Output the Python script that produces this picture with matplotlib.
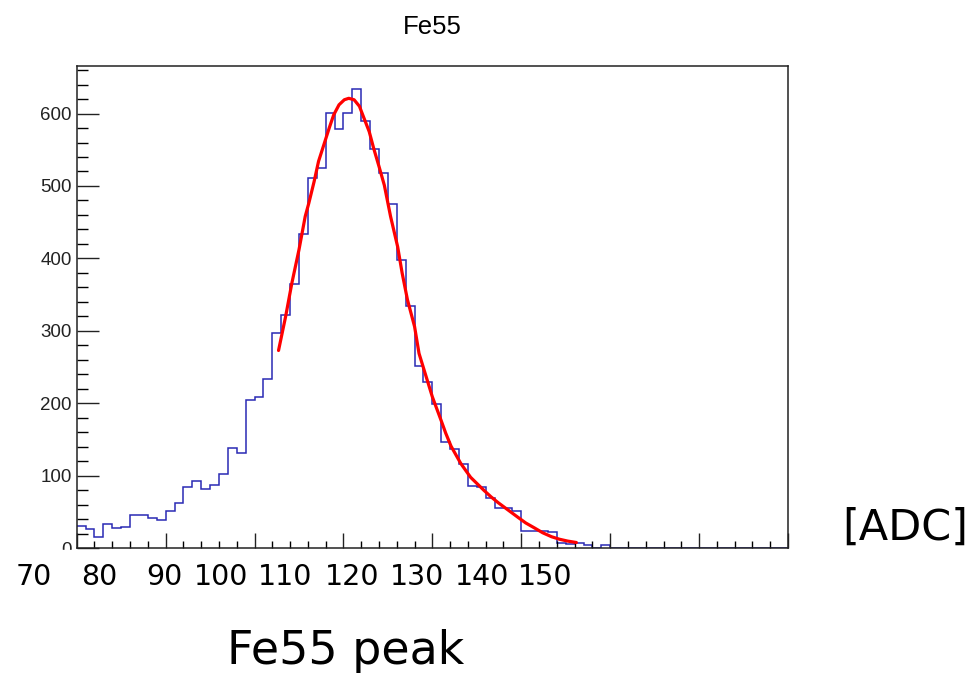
import numpy as np
import matplotlib
matplotlib.use("Agg")
import matplotlib.pyplot as plt
from matplotlib.patches import Rectangle
from matplotlib.ticker import MultipleLocator

# histogram counts, 80 bins of width 1 starting at 70
bin_lo = 70
bin_hi = 150
counts = [31, 26, 16, 33, 28, 30, 46, 46, 42, 39,
          52, 63, 85, 93, 82, 87, 102, 138, 132, 204,
          209, 234, 297, 322, 365, 434, 511, 525, 601, 579,
          601, 634, 590, 551, 518, 475, 398, 335, 252, 230,
          199, 147, 137, 116, 86, 84, 69, 56, 56, 52,
          24, 24, 24, 22, 8, 6, 7, 5, 0, 5,
          0, 0, 0, 0, 0, 0, 0, 0, 0, 0,
          0, 0, 0, 0, 0, 0, 0, 0, 0, 0]

# fit curve
fit_x = [92.7, 93.5, 94.2, 95.0, 95.7, 96.1, 96.7, 97.2, 97.8, 98.4,
         98.9, 99.5, 100.1, 100.6, 101.2, 101.8, 102.3, 102.9, 103.4, 104.0,
         104.6, 105.3, 106.1, 106.6, 107.2, 108.0, 108.5, 109.3, 110.0, 111.0,
         111.5, 112.1, 113.2, 114.3, 115.8, 116.6, 117.4, 118.5, 119.6, 120.5,
         121.5, 122.4, 123.4, 124.3, 125.2, 126.2]
fit_y = [273, 320, 366, 412, 458, 476, 506, 534, 557, 580,
         598, 612, 619, 621, 619, 610, 594, 575, 552, 527,
         501, 458, 416, 380, 343, 306, 269, 237, 209, 176,
         159, 141, 117, 98, 80, 71, 63, 53, 43, 35,
         28, 21.5, 16, 12.5, 10, 8]

xlabels = ["70", "80", "90", "100", "110", "120", "130", "140", "150"]
xlabel_px = [34, 99, 164, 221, 285, 352, 417, 482, 545]

W, H = 974, 673
fig = plt.figure(figsize=(W / 100, H / 100), dpi=100)
ax = fig.add_axes([76.7 / W, 1 - 548.3 / H, (788 - 76.7) / W, (548.3 - 65.7) / H])

edges = np.arange(bin_lo, bin_hi + 1)
ax.stairs(counts, edges, color="#2a2ab4", lw=1.1, baseline=None)
ax.plot(fit_x, fit_y, color="#ff0000", lw=2.3, solid_capstyle="round", solid_joinstyle="round")

ax.set_xlim(bin_lo, bin_hi)
ax.set_ylim(0, 666)
ax.xaxis.set_major_locator(MultipleLocator(10))
ax.xaxis.set_minor_locator(MultipleLocator(2))
ax.yaxis.set_major_locator(MultipleLocator(100))
ax.yaxis.set_minor_locator(MultipleLocator(20))
ax.tick_params(axis="x", which="major", direction="in", length=10.8, width=1, labelbottom=False)
ax.tick_params(axis="x", which="minor", direction="in", length=5.2, width=1)
ax.tick_params(axis="y", which="major", direction="in", length=15.8, width=1, pad=3.6,
               labelsize=13.5, labelfontfamily="Liberation Sans")
ax.tick_params(axis="y", which="minor", direction="in", length=7.9, width=1)
ax.tick_params(colors="#222222")
for s in ax.spines.values():
    s.set_linewidth(1.1)
    s.set_color("#222222")

fig.text(432 / W, 1 - 27 / H, "Fe55", ha="center", va="center",
         fontsize=18.5, family="Liberation Sans")

# pasted-on labels cover the bottom half of the "0"
fig.patches.append(Rectangle((0, 0), 75 / W, 1 - 549.5 / H, transform=fig.transFigure,
                             color="white", zorder=5))

for lab, px in zip(xlabels, xlabel_px):
    fig.text(px / W, 1 - 577 / H, lab, ha="center", va="center",
             fontsize=20.5, family="DejaVu Sans", zorder=6)

fig.text(905 / W, 1 - 540 / H, "[ADC]", ha="center", va="baseline",
         fontsize=31, family="DejaVu Sans")
fig.text(346 / W, 1 - 664 / H, "Fe55 peak", ha="center", va="baseline",
         fontsize=33, family="DejaVu Sans")

fig.savefig("out.png", dpi=100)
